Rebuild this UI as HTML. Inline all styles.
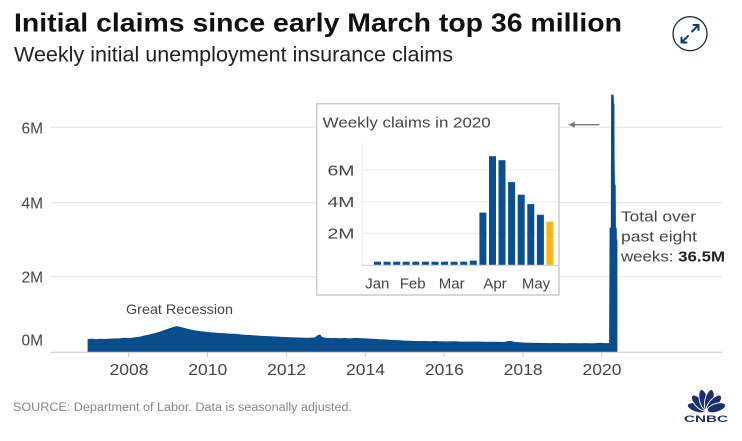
<!DOCTYPE html>
<html>
<head>
<meta charset="utf-8">
<style>
  html,body{margin:0;padding:0;background:#fff;}
  svg{display:block;}
  text{font-family:"Liberation Sans", sans-serif;}
</style>
</head>
<body>
<svg width="742" height="441" viewBox="0 0 742 441" xmlns="http://www.w3.org/2000/svg">
  <rect x="0" y="0" width="742" height="441" fill="#fff"/>

  <!-- Title -->
  <text x="14" y="31.7" font-size="26" font-weight="bold" fill="#111" textLength="608" lengthAdjust="spacingAndGlyphs">Initial claims since early March top 36 million</text>
  <text x="14" y="61.7" font-size="21" fill="#222" textLength="439" lengthAdjust="spacingAndGlyphs">Weekly initial unemployment insurance claims</text>

  <!-- expand icon -->
  <circle cx="690" cy="33.7" r="17" fill="#fff" stroke="#1b2a4a" stroke-width="1.3"/>
  <g stroke="#0d3b7a" stroke-width="2" fill="none" stroke-linecap="round" stroke-linejoin="round">
    <line x1="692" y1="31.5" x2="698.5" y2="25"/>
    <polyline points="693.5,25 698.5,25 698.5,30"/>
    <line x1="688" y1="36" x2="681.5" y2="42.5"/>
    <polyline points="681.5,37.5 681.5,42.5 686.5,42.5"/>
  </g>

  <!-- main gridlines -->
  <g stroke="#e6e6e6" stroke-width="1">
    <line x1="50" y1="127.3" x2="722" y2="127.3"/>
    <line x1="50" y1="202.7" x2="722" y2="202.7"/>
    <line x1="50" y1="276.7" x2="722" y2="276.7"/>
  </g>

  <!-- y labels -->
  <g font-size="15.5" fill="#444" text-anchor="end">
    <text x="43" y="133.3">6M</text>
    <text x="43" y="208.4">4M</text>
    <text x="43" y="282.4">2M</text>
    <text x="43" y="345.7">0M</text>
  </g>

  <!-- main area -->
  <path fill="#0a4d8c" stroke="#0a4d8c" stroke-width="0.8" stroke-linejoin="miter" d="
    M88,352 L88,339.5 L92,339 L96,339.6 L100,339.2 L105,339.4 L110,339 L115,338.8 L120,338.6 L125,338.2 L130,338.5
    L135,337.6 L140,337 L145,335.8 L150,334.8 L155,333.5 L160,332 L165,330.2 L170,328.5 L174,327.2 L176,326.6
    L178,326.8 L182,327.8 L186,328.8 L190,329.8 L195,330.8 L200,331.5 L205,332 L210,332.6 L215,333 L220,333.4
    L225,333.6 L230,334.2 L235,334.2 L240,334.8 L245,335.2 L250,335.4 L255,335.8 L260,336.2 L265,336.4 L270,336.6
    L275,336.9 L280,337.2 L285,337.4 L290,337.6 L295,337.8 L300,338 L305,338.2 L310,338.2 L315,337.8 L318,335.5
    L320,335 L322,337.5 L326,338.2 L330,338.5 L335,338.4 L340,338.6 L345,338.4 L350,338.8 L355,338.3 L360,338.5
    L365,338.8 L370,339 L375,339.3 L380,339.6 L385,339.8 L390,340.2 L395,340.4 L400,340.7 L405,341 L410,341.2
    L415,341.4 L420,341.5 L425,341.4 L430,341.6 L435,341.4 L440,341.6 L445,341.8 L450,341.8 L455,341.6 L460,341.9
    L465,342 L470,342 L475,341.9 L480,342 L485,342.1 L490,342.1 L495,342.2 L500,342.3 L505,342.2 L508,341.5
    L511,341.3 L514,342.3 L520,342.7 L525,343 L530,343.2 L535,343.3 L540,343.3 L545,343.4 L550,343.5 L555,343.4
    L560,343.5 L565,343.6 L570,343.5 L575,343.5 L580,343.6 L585,343.5 L590,343.6 L595,343.5 L600,343.2 L605,343.5
    L609.5,343.4 L610,228 L611.2,228 L611.5,95 L613.2,95 L613.6,104 L614,104 L614.2,160 L614.6,185 L615.3,185
    L615.5,228 L616.3,228 L616.5,240 L617,240 L617,352 Z"/>

  <!-- x axis -->
  <line x1="50" y1="352.3" x2="722" y2="352.3" stroke="#c8c8c8" stroke-width="1"/>
  <g stroke="#c8c8c8" stroke-width="1">
    <line x1="128.7" y1="352" x2="128.7" y2="357"/>
    <line x1="207.5" y1="352" x2="207.5" y2="357"/>
    <line x1="286.4" y1="352" x2="286.4" y2="357"/>
    <line x1="365.2" y1="352" x2="365.2" y2="357"/>
    <line x1="444.1" y1="352" x2="444.1" y2="357"/>
    <line x1="522.9" y1="352" x2="522.9" y2="357"/>
    <line x1="601.7" y1="352" x2="601.7" y2="357"/>
  </g>
  <g font-size="16" fill="#444" text-anchor="middle">
    <text x="129" y="375" textLength="39" lengthAdjust="spacingAndGlyphs">2008</text>
    <text x="207.8" y="375" textLength="39" lengthAdjust="spacingAndGlyphs">2010</text>
    <text x="286.7" y="375" textLength="39" lengthAdjust="spacingAndGlyphs">2012</text>
    <text x="365.5" y="375" textLength="39" lengthAdjust="spacingAndGlyphs">2014</text>
    <text x="444.4" y="375" textLength="39" lengthAdjust="spacingAndGlyphs">2016</text>
    <text x="523.2" y="375" textLength="39" lengthAdjust="spacingAndGlyphs">2018</text>
    <text x="602" y="375" textLength="39" lengthAdjust="spacingAndGlyphs">2020</text>
  </g>

  <!-- Great Recession -->
  <text x="126" y="314" font-size="14" fill="#444" textLength="107" lengthAdjust="spacingAndGlyphs">Great Recession</text>

  <!-- Total over annotation -->
  <g font-size="15" fill="#444">
    <text x="621" y="221.7" textLength="75" lengthAdjust="spacingAndGlyphs">Total over</text>
    <text x="621" y="241.7" textLength="76" lengthAdjust="spacingAndGlyphs">past eight</text>
    <text x="621" y="261.7" textLength="104" lengthAdjust="spacingAndGlyphs">weeks: <tspan font-weight="bold" fill="#222">36.5M</tspan></text>
  </g>

  <!-- arrow -->
  <line x1="571" y1="124.7" x2="599.5" y2="124.7" stroke="#777" stroke-width="1.3"/>
  <polygon points="568.5,124.7 575,121.8 575,127.6" fill="#777"/>

  <!-- Inset box -->
  <rect x="316.7" y="103.7" width="242.3" height="191.3" fill="#fff" stroke="#cfcfcf" stroke-width="1.6"/>
  <text x="322.7" y="127.7" font-size="15" fill="#444" textLength="168" lengthAdjust="spacingAndGlyphs">Weekly claims in 2020</text>

  <g stroke="#ebebeb" stroke-width="1">
    <line x1="362" y1="170" x2="558" y2="170"/>
    <line x1="362" y1="201.7" x2="558" y2="201.7"/>
    <line x1="362" y1="233.3" x2="558" y2="233.3"/>
    <line x1="362.3" y1="143" x2="362.3" y2="265"/>
  </g>
  <g font-size="15" fill="#444" text-anchor="end">
    <text x="354.5" y="175.3" textLength="27" lengthAdjust="spacingAndGlyphs">6M</text>
    <text x="354.5" y="207" textLength="27" lengthAdjust="spacingAndGlyphs">4M</text>
    <text x="354.5" y="238.6" textLength="27" lengthAdjust="spacingAndGlyphs">2M</text>
  </g>

  <g fill="#0b4f8f">
    <rect x="374.0" y="261.7" width="7" height="3.3"/>
    <rect x="383.6" y="261.7" width="7" height="3.3"/>
    <rect x="393.2" y="261.7" width="7" height="3.3"/>
    <rect x="402.7" y="261.7" width="7" height="3.3"/>
    <rect x="412.3" y="261.7" width="7" height="3.3"/>
    <rect x="421.9" y="261.7" width="7" height="3.3"/>
    <rect x="431.5" y="261.7" width="7" height="3.3"/>
    <rect x="441.1" y="261.7" width="7" height="3.3"/>
    <rect x="450.6" y="261.7" width="7" height="3.3"/>
    <rect x="460.2" y="261.7" width="7" height="3.3"/>
    <rect x="469.8" y="260.6" width="7" height="4.4"/>
    <rect x="479.4" y="212.6" width="7" height="52.4"/>
    <rect x="489.0" y="156.2" width="7" height="108.8"/>
    <rect x="498.5" y="160.2" width="7" height="104.8"/>
    <rect x="508.1" y="182.1" width="7" height="82.9"/>
    <rect x="517.7" y="194.7" width="7" height="70.3"/>
    <rect x="527.3" y="204.1" width="7" height="60.9"/>
    <rect x="536.9" y="214.8" width="7" height="50.2"/>
  </g>
  <rect x="546.4" y="221.6" width="7" height="43.4" fill="#f7b718"/>
  <line x1="361.7" y1="265.2" x2="558" y2="265.2" stroke="#c8c8c8" stroke-width="1"/>

  <g font-size="15" fill="#444" text-anchor="middle">
    <text x="377.3" y="288.3">Jan</text>
    <text x="412.7" y="288.3">Feb</text>
    <text x="451.7" y="288.3">Mar</text>
    <text x="495" y="288.3">Apr</text>
    <text x="536" y="288.3">May</text>
  </g>

  <!-- Source -->
  <text x="13" y="411" font-size="11.5" fill="#858585" textLength="339" lengthAdjust="spacingAndGlyphs">SOURCE: Department of Labor. Data is seasonally adjusted.</text>

  <!-- CNBC logo -->
  <g fill="#1b2f6e" stroke="#fff" stroke-width="0.9">
    <ellipse cx="0" cy="-10.5" rx="4.3" ry="9.5" transform="translate(706.5,411) rotate(-72)"/>
    <ellipse cx="0" cy="-11" rx="4.3" ry="10" transform="translate(706.5,411) rotate(-43)"/>
    <ellipse cx="0" cy="-11.5" rx="4.3" ry="10.5" transform="translate(706.5,411) rotate(-14)"/>
    <ellipse cx="0" cy="-11.5" rx="4.3" ry="10.5" transform="translate(706.5,411) rotate(14)"/>
    <ellipse cx="0" cy="-11" rx="4.3" ry="10" transform="translate(706.5,411) rotate(43)"/>
    <ellipse cx="0" cy="-10.5" rx="4.3" ry="9.5" transform="translate(706.5,411) rotate(72)"/>
  </g>
  <text x="706" y="422" font-size="9.5" font-weight="bold" fill="#1b2f6e" text-anchor="middle" textLength="44" lengthAdjust="spacingAndGlyphs">CNBC</text>
</svg>
</body>
</html>
